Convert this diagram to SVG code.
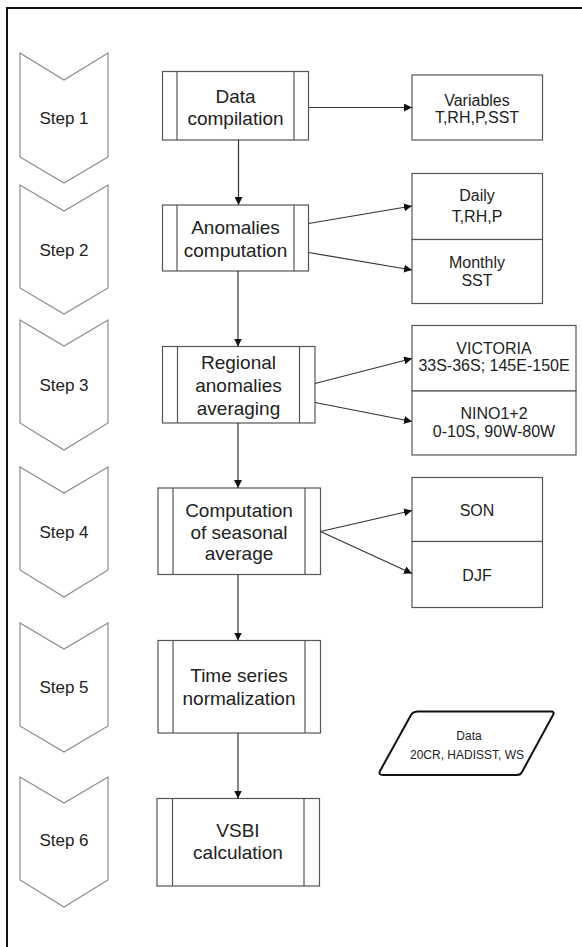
<svg xmlns="http://www.w3.org/2000/svg" width="582" height="947" viewBox="0 0 582 947">
<style>
text{font-family:"Liberation Sans",Arial,sans-serif;fill:#222;text-anchor:middle;dominant-baseline:central}
.chev{fill:#fff;stroke:#8a8a8a;stroke-width:1.2}
.step{font-size:17px}
.proc{fill:#fff;stroke:#555;stroke-width:1.2}
.pt{font-size:19px}
.box{fill:#fff;stroke:#555;stroke-width:1.2}
.bt{font-size:16px}
.dt{font-size:12px}
.conn{stroke:#333;stroke-width:1.2;fill:none;marker-end:url(#ah)}
</style>
<defs>
<marker id="ah" viewBox="0 0 10 10" refX="10" refY="5" markerWidth="8" markerHeight="8" markerUnits="userSpaceOnUse" orient="auto">
<path d="M0,0 L10,5 L0,10 Z" fill="#111"/>
</marker>
</defs>
<rect x="0" y="0" width="582" height="947" fill="#fff"/>
<rect x="7" y="8" width="620" height="1000" fill="none" stroke="#111" stroke-width="2"/>

<g id="step1"><path class="chev" d="M20,53 L64,80 L108,53 L108,157 L64,183 L20,157 Z"/><text class="step" x="64" y="118">Step 1</text></g>
<g id="step2"><path class="chev" d="M20,185 L64,211 L108,185 L108,288 L64,314 L20,288 Z"/><text class="step" x="64" y="250">Step 2</text></g>
<g id="step3"><path class="chev" d="M20,320 L64,346 L108,320 L108,423 L64,450 L20,423 Z"/><text class="step" x="64" y="385">Step 3</text></g>
<g id="step4"><path class="chev" d="M20,467 L64,493 L108,467 L108,570 L64,597 L20,570 Z"/><text class="step" x="64" y="532">Step 4</text></g>
<g id="step5"><path class="chev" d="M20,623 L64,649 L108,623 L108,726 L64,752 L20,726 Z"/><text class="step" x="64" y="687">Step 5</text></g>
<g id="step6"><path class="chev" d="M20,777 L64,803 L108,777 L108,880 L64,907 L20,880 Z"/><text class="step" x="64" y="840">Step 6</text></g>

<g id="p1"><rect class="proc" x="162.5" y="71.5" width="146" height="68.5"/><line class="proc" x1="177" y1="71.5" x2="177" y2="140"/><line class="proc" x1="294" y1="71.5" x2="294" y2="140"/><text class="pt" x="235.5" y="96">Data</text><text class="pt" x="235.5" y="118">compilation</text></g>
<g id="p2"><rect class="proc" x="162.5" y="205" width="146" height="66"/><line class="proc" x1="177" y1="205" x2="177" y2="271"/><line class="proc" x1="294" y1="205" x2="294" y2="271"/><text class="pt" x="235.5" y="227">Anomalies</text><text class="pt" x="235.5" y="250">computation</text></g>
<g id="p3"><rect class="proc" x="162.5" y="346.5" width="152.5" height="76.5"/><line class="proc" x1="177.5" y1="346.5" x2="177.5" y2="423"/><line class="proc" x1="299.5" y1="346.5" x2="299.5" y2="423"/><text class="pt" x="238.5" y="362">Regional</text><text class="pt" x="238.5" y="385">anomalies</text><text class="pt" x="238.5" y="408">averaging</text></g>
<g id="p4"><rect class="proc" x="158" y="488" width="162.5" height="86.5"/><line class="proc" x1="173" y1="488" x2="173" y2="574.5"/><line class="proc" x1="305" y1="488" x2="305" y2="574.5"/><text class="pt" x="239" y="510">Computation</text><text class="pt" x="239" y="532">of seasonal</text><text class="pt" x="239" y="553">average</text></g>
<g id="p5"><rect class="proc" x="158" y="640.5" width="162.5" height="92.5"/><line class="proc" x1="173" y1="640.5" x2="173" y2="733"/><line class="proc" x1="305" y1="640.5" x2="305" y2="733"/><text class="pt" x="239" y="675">Time series</text><text class="pt" x="239" y="698">normalization</text></g>
<g id="p6"><rect class="proc" x="157" y="798.5" width="162.5" height="87.5"/><line class="proc" x1="172.5" y1="798.5" x2="172.5" y2="886"/><line class="proc" x1="304" y1="798.5" x2="304" y2="886"/><text class="pt" x="238" y="830">VSBI</text><text class="pt" x="238" y="852">calculation</text></g>

<g id="variables"><rect class="box" x="412" y="75" width="130.5" height="65"/><text class="bt" x="477" y="100">Variables</text><text class="bt" x="477" y="117">T,RH,P,SST</text></g>
<g id="daily"><rect class="box" x="412" y="173.5" width="130.5" height="66"/><text class="bt" x="477" y="195">Daily</text><text class="bt" x="477" y="216.5">T,RH,P</text></g>
<g id="monthly"><rect class="box" x="412" y="239.5" width="130.5" height="64"/><text class="bt" x="477" y="262">Monthly</text><text class="bt" x="477" y="280">SST</text></g>
<g id="victoria"><rect class="box" x="412" y="325.5" width="164" height="65.5"/><text class="bt" x="494" y="348">VICTORIA</text><text class="bt" x="494" y="365">33S-36S; 145E-150E</text></g>
<g id="nino"><rect class="box" x="412" y="391" width="164" height="64"/><text class="bt" x="494" y="413.5">NINO1+2</text><text class="bt" x="494" y="431.5">0-10S, 90W-80W</text></g>
<g id="son"><rect class="box" x="412" y="477.5" width="130.5" height="64"/><text class="bt" x="477" y="510">SON</text></g>
<g id="djf"><rect class="box" x="412" y="541.5" width="130.5" height="66"/><text class="bt" x="477" y="575">DJF</text></g>

<g id="data"><path d="M418,711.5 L551,711.5 Q555,711.5 553,715 L522,772 Q520.5,775 517,775 L383,775 Q378,775 380,771 L411,715 Q413,711.5 418,711.5 Z" fill="#fff" stroke="#111" stroke-width="2"/><text class="dt" x="469" y="736">Data</text><text class="dt" x="467" y="755">20CR, HADISST, WS</text></g>

<g id="connectors">
<line class="conn" x1="308.5" y1="107.5" x2="412" y2="107.5"/>
<line class="conn" x1="238.5" y1="140" x2="238.5" y2="205"/>
<line class="conn" x1="308.5" y1="223.5" x2="412" y2="206"/>
<line class="conn" x1="308.5" y1="252.5" x2="412" y2="270"/>
<line class="conn" x1="238" y1="271" x2="238" y2="346.5"/>
<line class="conn" x1="315" y1="383.5" x2="412" y2="358.5"/>
<line class="conn" x1="315" y1="402.5" x2="412" y2="421.5"/>
<line class="conn" x1="238" y1="423" x2="238" y2="488"/>
<line class="conn" x1="320.5" y1="531.5" x2="412" y2="510.5"/>
<line class="conn" x1="320.5" y1="531.5" x2="412" y2="573.5"/>
<line class="conn" x1="238" y1="574.5" x2="238" y2="640.5"/>
<line class="conn" x1="238" y1="733" x2="238" y2="798.5"/>
</g>
</svg>
